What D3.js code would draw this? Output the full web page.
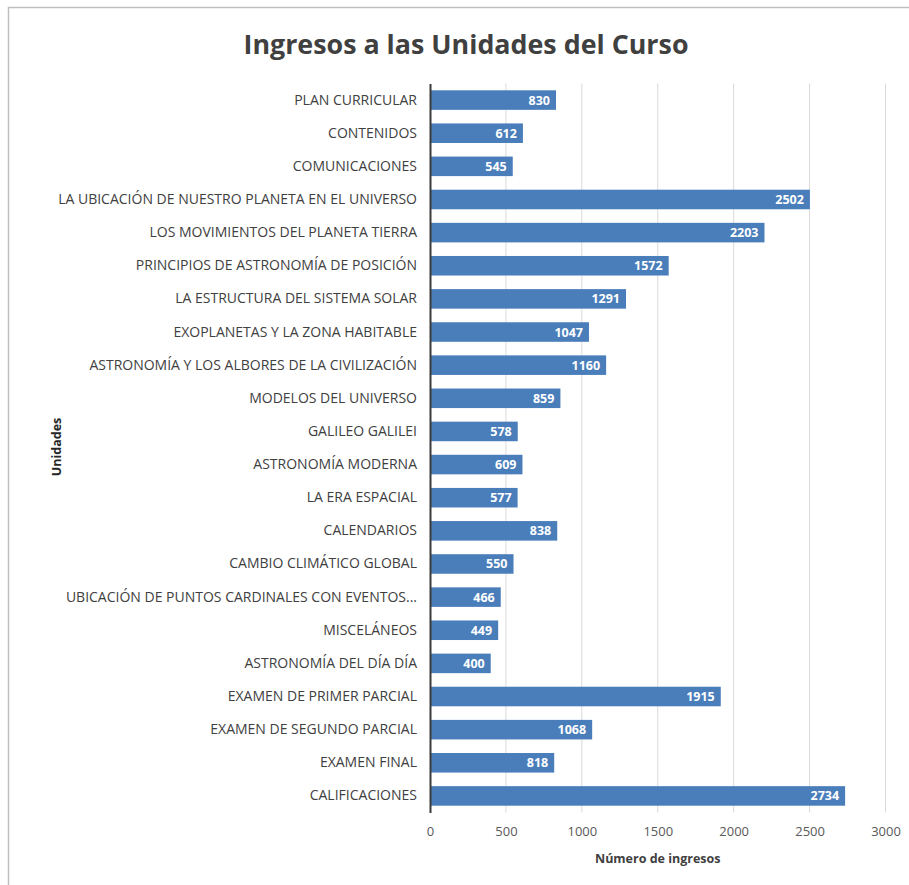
<!DOCTYPE html>
<html><head><meta charset="utf-8">
<script src="https://cdn.jsdelivr.net/npm/d3@7"></script>
<style>body{margin:0;background:#fff}svg{display:block}</style>
</head><body>
<svg id="c" width="909" height="885"></svg>
<script>
const categories = ["PLAN CURRICULAR","CONTENIDOS","COMUNICACIONES","LA UBICACIÓN DE NUESTRO PLANETA EN EL UNIVERSO","LOS MOVIMIENTOS DEL PLANETA TIERRA","PRINCIPIOS DE ASTRONOMÍA DE POSICIÓN","LA ESTRUCTURA DEL SISTEMA SOLAR","EXOPLANETAS Y LA ZONA HABITABLE","ASTRONOMÍA Y LOS ALBORES DE LA CIVILIZACIÓN","MODELOS DEL UNIVERSO","GALILEO GALILEI","ASTRONOMÍA MODERNA","LA ERA ESPACIAL","CALENDARIOS","CAMBIO CLIMÁTICO GLOBAL","UBICACIÓN DE PUNTOS CARDINALES CON EVENTOS...","MISCELÁNEOS","ASTRONOMÍA DEL DÍA DÍA","EXAMEN DE PRIMER PARCIAL","EXAMEN DE SEGUNDO PARCIAL","EXAMEN FINAL","CALIFICACIONES"];
const values = [830,612,545,2502,2203,1572,1291,1047,1160,859,578,609,577,838,550,466,449,400,1915,1068,818,2734];
const xTicks = [0,500,1000,1500,2000,2500,3000];
const title = "Ingresos a las Unidades del Curso";
const xTitle = "Número de ingresos";
const yTitle = "Unidades";

const FONT = "'Open Sans', 'Noto Sans', sans-serif";
const svg = d3.select("#c");
svg.append("rect").attr("x",8.5).attr("y",7.5).attr("width",920).attr("height",900)
  .attr("fill","#fff").attr("stroke","#bfbfbf").attr("stroke-width",1.5);

const x = d3.scaleLinear().domain([0,3000]).range([430,885.5]);
const y = d3.scaleBand().domain(categories).range([83.5,812.5]).paddingInner(0.41).paddingOuter(0.205);

// gridlines
svg.append("g").selectAll("line").data(xTicks.slice(1)).join("line")
  .attr("x1",d=>x(d)).attr("x2",d=>x(d)).attr("y1",83.5).attr("y2",812.5)
  .attr("stroke","#d9d9d9").attr("stroke-width",1);

// bars
svg.append("g").selectAll("rect").data(values).join("rect")
  .attr("x",x(0)).attr("y",(d,i)=>y(categories[i]))
  .attr("width",d=>x(d)-x(0)).attr("height",y.bandwidth())
  .attr("fill","#4a7ebb");

// data labels
svg.append("g").selectAll("text").data(values).join("text")
  .attr("x",d=>x(d)-6).attr("y",(d,i)=>y(categories[i])+y.bandwidth()/2)
  .attr("dy","0.36em").attr("text-anchor","end")
  .attr("fill","#fff").attr("font-weight","bold").attr("font-size",12.5)
  .attr("font-family",FONT).text(d=>d);

// y axis
const ya = svg.append("g").attr("transform",`translate(${x(0)},0)`)
  .call(d3.axisLeft(y).tickSize(0).tickPadding(13));
ya.select(".domain").attr("stroke","#3a3a3a").attr("stroke-width",2);
ya.selectAll("text").attr("font-family",FONT).attr("font-size",14).attr("fill","#404040");

// x axis labels
const xa = svg.append("g").attr("transform","translate(0,812.5)")
  .call(d3.axisBottom(x).tickValues(xTicks).tickFormat(d3.format("d")).tickSize(0).tickPadding(14));
xa.select(".domain").remove();
xa.selectAll("text").attr("font-family",FONT).attr("font-size",13).attr("fill","#595959");

// titles
svg.append("text").attr("x",466).attr("y",54).attr("text-anchor","middle")
  .attr("font-family",FONT).attr("font-size",27).attr("font-weight","bold")
  .attr("fill","#404040").attr("textLength",445).attr("lengthAdjust","spacingAndGlyphs").text(title);
svg.append("text").attr("x",x(1500)).attr("y",863).attr("text-anchor","middle")
  .attr("font-family",FONT).attr("font-size",12.5).attr("font-weight","bold")
  .attr("fill","#404040").text(xTitle);
svg.append("text").attr("transform","translate(61,447) rotate(-90)").attr("text-anchor","middle")
  .attr("font-family",FONT).attr("font-size",12.5).attr("font-weight","bold")
  .attr("fill","#262626").text(yTitle);
</script>
</body></html>
